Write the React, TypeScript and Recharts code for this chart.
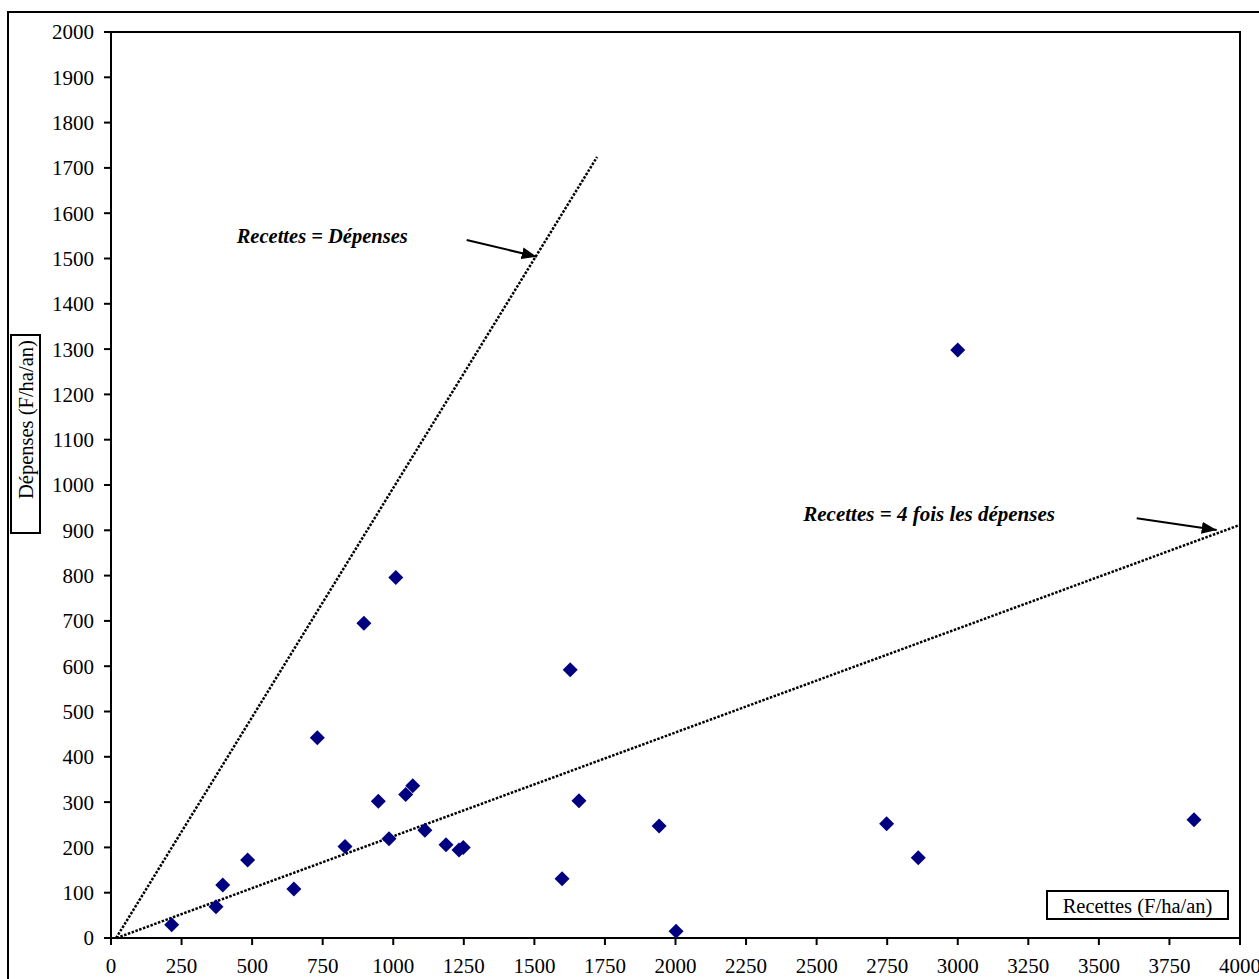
import React from 'react';
import { ScatterChart, Scatter, XAxis, YAxis, ReferenceLine, ReferenceArea } from 'recharts';

// Data
const recettes = [215, 372, 396, 484, 648, 731, 829, 896, 947, 985, 1009, 1044, 1069, 1112, 1187, 1233, 1248, 1598, 1627, 1658, 1942, 2002, 2748, 2860, 3000, 3837];
const depenses = [29, 69, 117, 172, 108, 442, 202, 695, 302, 219, 796, 317, 336, 238, 206, 194, 200, 131, 592, 303, 247, 15, 252, 177, 1298, 261];

const xTicks = [0, 250, 500, 750, 1000, 1250, 1500, 1750, 2000, 2250, 2500, 2750, 3000, 3250, 3500, 3750, 4000];
const yTicks = [0, 100, 200, 300, 400, 500, 600, 700, 800, 900, 1000, 1100, 1200, 1300, 1400, 1500, 1600, 1700, 1800, 1900, 2000];

const lineEgalite = [{ x: 18, y: 0 }, { x: 1722, y: 1724 }];
const lineQuatre = [{ x: 20, y: 0 }, { x: 4000, y: 912 }];

const points = recettes.map((r, i) => ({ x: r, y: depenses[i] }));

const FONT = '"Liberation Serif", "Times New Roman", serif';

const Diamond = (props: any) => {
  const { cx, cy } = props;
  const h = 7.5;
  return (
    <path
      d={`M${cx},${cy - h}L${cx + h},${cy}L${cx},${cy + h}L${cx - h},${cy}Z`}
      fill="#000080"
    />
  );
};

export default function App() {
  return (
    <div style={{ position: 'absolute', left: 0, top: 0, width: 1259, height: 979, overflow: 'hidden', background: '#fff' }}>
      <svg width={1259} height={979} style={{ position: 'absolute', left: 0, top: 0 }}>
        <rect x={8} y={12} width={1400} height={1100} fill="none" stroke="#000" strokeWidth={2} />
      </svg>
      <div style={{ position: 'absolute', left: 0, top: 0 }}>
        <ScatterChart width={1259} height={979} margin={{ top: 32, right: 19, bottom: 0, left: 0 }}>
          <XAxis
            type="number"
            dataKey="x"
            domain={[0, 4000]}
            ticks={xTicks}
            interval={0}
            height={41}
            tickSize={7}
            tickMargin={13}
            axisLine={{ stroke: '#000', strokeWidth: 2 }}
            tickLine={{ stroke: '#000', strokeWidth: 2 }}
            tick={{ fill: '#000', fontFamily: FONT, fontSize: 21 }}
            allowDataOverflow
          />
          <YAxis
            type="number"
            dataKey="y"
            domain={[0, 2000]}
            ticks={yTicks}
            interval={0}
            width={111}
            tickSize={7}
            tickMargin={10}
            axisLine={{ stroke: '#000', strokeWidth: 2 }}
            tickLine={{ stroke: '#000', strokeWidth: 2 }}
            tick={{ fill: '#000', fontFamily: FONT, fontSize: 21 }}
            allowDataOverflow
          />
          <ReferenceArea x1={0} x2={4000} y1={0} y2={2000} fill="none" fillOpacity={0} stroke="#000" strokeWidth={2} strokeOpacity={1} />
          <ReferenceLine segment={lineEgalite} stroke="#000" strokeWidth={2.5} strokeDasharray="2.5 1.5" />
          <ReferenceLine segment={lineQuatre} stroke="#000" strokeWidth={2.5} strokeDasharray="2.5 1.5" />
          <Scatter data={points} shape={Diamond} isAnimationActive={false} />
        </ScatterChart>
      </div>
      <svg width={1259} height={979} style={{ position: 'absolute', left: 0, top: 0, pointerEvents: 'none' }}>
        <defs>
          <marker id="arrowHead" viewBox="0 0 10 10" refX="10" refY="5" markerWidth="15" markerHeight="12" markerUnits="userSpaceOnUse" orient="auto" preserveAspectRatio="none">
            <path d="M0,0L10,5L0,10Z" fill="#000" />
          </marker>
        </defs>
        <text x={236.7} y={243} fontFamily={FONT} fontSize={20.5} fontWeight="bold" fontStyle="italic" fill="#000">Recettes = Dépenses</text>
        <line x1={466.7} y1={240} x2={536.7} y2={256.7} stroke="#000" strokeWidth={2} markerEnd="url(#arrowHead)" />
        <text x={803.3} y={521} fontFamily={FONT} fontSize={21} fontWeight="bold" fontStyle="italic" fill="#000">Recettes = 4 fois les dépenses</text>
        <line x1={1136.7} y1={518.3} x2={1216.7} y2={530} stroke="#000" strokeWidth={2} markerEnd="url(#arrowHead)" />
        <rect x={11} y={335} width={29} height={198} fill="#fff" stroke="#000" strokeWidth={2} />
        <text transform="translate(33, 499) rotate(-90)" fontFamily={FONT} fontSize={20.5} fill="#000">Dépenses (F/ha/an)</text>
        <rect x={1047} y={891} width={181} height={28} fill="#fff" stroke="#000" strokeWidth={2} />
        <text x={1137.5} y={913} textAnchor="middle" fontFamily={FONT} fontSize={20.5} fill="#000">Recettes (F/ha/an)</text>
      </svg>
    </div>
  );
}
